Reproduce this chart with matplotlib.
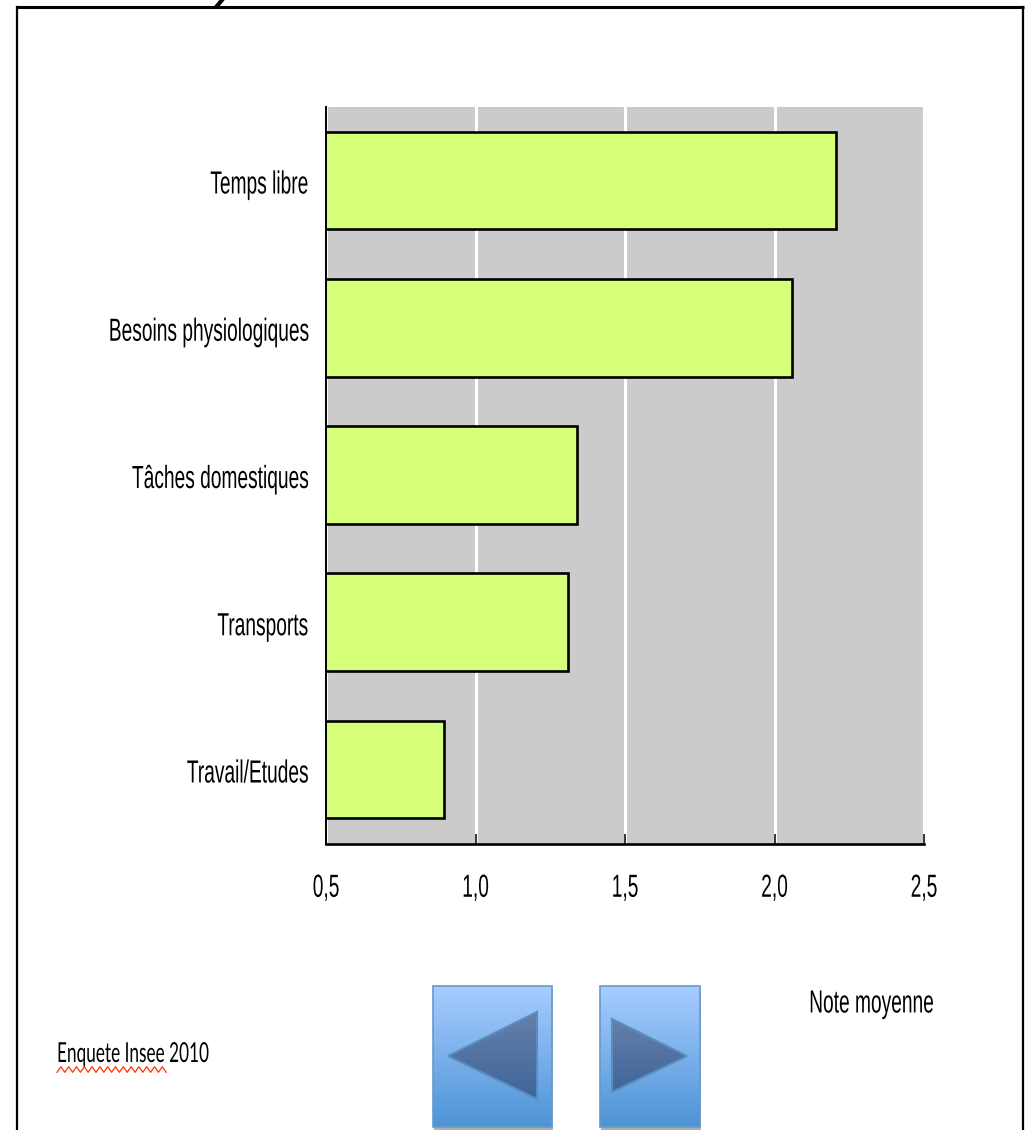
import numpy as np
import matplotlib
matplotlib.use("Agg")
import matplotlib.pyplot as plt
from matplotlib.patches import Polygon, Rectangle
from matplotlib.patheffects import AbstractPathEffect
from matplotlib.transforms import Affine2D

categories = ["Travail/Etudes", "Transports", "Tâches domestiques", "Besoins physiologiques", "Temps libre"]
values = [0.895, 1.31, 1.34, 2.06, 2.205]
x_ticks = [0.5, 1.0, 1.5, 2.0, 2.5]
x_tick_labels = ["0,5", "1,0", "1,5", "2,0", "2,5"]
axis_label = "Note moyenne"
source_label = "Enquete Insee 2010"

W, H = 1028, 1130
plt.rcParams["font.family"] = ["Liberation Sans", "DejaVu Sans"]


class Tall(AbstractPathEffect):
    """Stretch real text vertically around its baseline, optionally shifting it down."""

    def __init__(self, sy, down=0.0):
        super().__init__()
        self.sy, self.down = sy, down

    def draw_path(self, renderer, gc, tpath, affine, rgbFace=None):
        base = affine.transform((0, 0))[1]
        aff = affine + Affine2D().translate(0, -base).scale(1, self.sy).translate(0, base - self.down)
        renderer.draw_path(gc, tpath, aff, rgbFace)


fig = plt.figure(figsize=(W / 100, H / 100), dpi=100, facecolor="white")

# overlay in pixel coordinates for the frame and the navigation buttons
ov = fig.add_axes([0, 0, 1, 1], zorder=0)
ov.set_xlim(0, W); ov.set_ylim(H, 0); ov.axis("off")
ov.plot([16.5, 16.5], [H, 6.5], color="black", lw=1.6)
ov.plot([1022.5, 1022.5], [H, 6.5], color="black", lw=1.6)
ov.plot([15.5, 1023.5], [6.7, 6.7], color="black", lw=2.2, solid_capstyle="butt")
ov.plot([217, 222], [6, 0], color="black", lw=3)


def button(x0, x1, y0, y1, tri):
    ov.add_patch(Rectangle((x0 + 1, y0 + 3), x1 - x0, y1 - y0, fc="#8C8C8C", ec="none", alpha=0.7))
    grad = np.linspace(0, 1, 256)[:, None, None]
    top = np.array([0.66, 0.80, 1.0]); bot = np.array([0.30, 0.58, 0.84])
    ov.imshow(top + (bot - top) * grad, extent=[x0, x1, y1, y0], aspect="auto", zorder=2)
    ov.add_patch(Rectangle((x0, y0), x1 - x0, y1 - y0, fc="none", ec="#659ACB", lw=1.2, zorder=3))
    ys = [p[1] for p in tri]
    tt = np.array([0.40, 0.50, 0.67]); tb = np.array([0.24, 0.40, 0.60])
    im = ov.imshow(tt + (tb - tt) * grad,
                   extent=[min(p[0] for p in tri), max(p[0] for p in tri), max(ys), min(ys)],
                   aspect="auto", zorder=4)
    poly = Polygon(tri, closed=True, fc="none", ec="#5B8DC0", lw=1.5, zorder=5)
    ov.add_patch(poly)
    im.set_clip_path(poly)


button(433, 552, 986, 1127, [(448, 1056), (537, 1012), (537, 1099)])
button(600, 700, 986, 1127, [(612, 1019), (687, 1056), (612, 1092)])
ov.set_xlim(0, W); ov.set_ylim(H, 0)

t = ov.text(57, 1062, source_label, fontsize=12.4, va="baseline", ha="left", color="black", zorder=6,
            family=["Lato", "DejaVu Sans"])
t.set_path_effects([Tall(1.6)])
wx = np.arange(57, 167, 3.9)
wy = 1069.5 + 2.8 * (-1.0) ** np.arange(len(wx))
ov.plot(wx, wy, color="#FF3300", lw=0.9, zorder=6)
t = ov.text(871.5, 1012.5, axis_label, fontsize=13.8, va="baseline", ha="center", color="black", zorder=6)
t.set_path_effects([Tall(1.667)])

# chart
ax = fig.add_axes([326 / W, 1 - 844 / H, (924 - 326) / W, (844 - 107) / H], zorder=2)
ax.set_facecolor("#CBCBCB")
ypos = np.arange(len(categories))
ax.barh(ypos, values, left=0, height=0.665, color="#D6FF79", edgecolor="black", linewidth=1.9, zorder=3)
ax.set_xlim(0.5, 2.5)
ax.set_ylim(-0.506, 4.499)
ax.set_yticks(ypos, categories)
ax.set_xticks(x_ticks, x_tick_labels)
ax.grid(axis="x", color="white", lw=2.2, zorder=1)
ax.set_axisbelow(True)
for s in ["top", "right"]:
    ax.spines[s].set_visible(False)
ax.spines["left"].set_linewidth(1.4)
ax.spines["bottom"].set_linewidth(1.9)
for s in ["left", "bottom"]:
    ax.spines[s].set_color("black")
    ax.spines[s].set_zorder(4)
ax.tick_params(axis="x", direction="in", length=7.5, width=1.1, pad=38, labelsize=13.8, color="black")
ax.tick_params(axis="y", length=0, pad=13, labelsize=13.8)
for lab in ax.get_xticklabels():
    lab.set_va("baseline")
    lab.set_path_effects([Tall(1.667)])
for lab in ax.get_yticklabels():
    lab.set_va("baseline")
    lab.set_path_effects([Tall(1.667, down=13)])

fig.savefig("out.png", dpi=100)
